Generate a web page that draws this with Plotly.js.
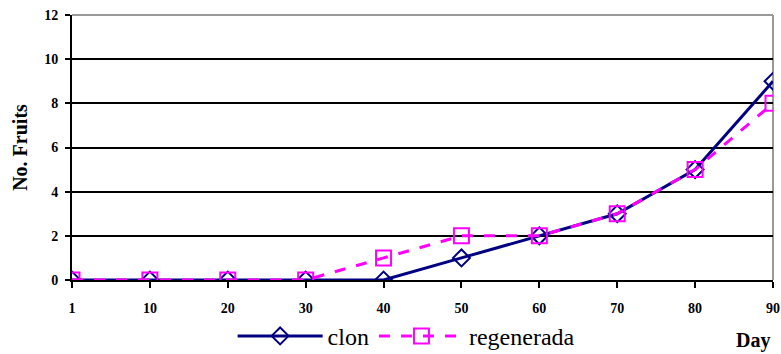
<!DOCTYPE html>
<html><head><meta charset="utf-8">
<script src="https://cdn.plot.ly/plotly-3.0.1.min.js"></script>
<style>body{margin:0;background:#fff}#c{width:781px;height:354px}</style>
</head><body><div id="c"></div>
<script>
const days = ['1','10','20','30','40','50','60','70','80','90'];
const clon = [0,0,0,0,0,1,2,3,5,9];
const regenerada = [0,0,0,0,1,2,2,3,5,8];
const yTicks = [0,2,4,6,8,10,12];

const SERIF = 'Liberation Serif, Times New Roman, serif';
const idx = days.map((d,i)=>i);
const traces = [
  {x: idx, y: clon, name: 'clon', type: 'scatter', mode: 'lines+markers',
   line: {color: '#000080', width: 3},
   marker: {symbol: 'diamond-open', size: 13, color: '#000080', line: {width: 2, color: '#000080'}}},
  {x: idx, y: regenerada, name: 'regenerada', type: 'scatter', mode: 'lines+markers',
   line: {color: '#FF00FF', width: 3, dash: '11px,11px'},
   marker: {symbol: 'square-open', size: 15, color: '#FF00FF', line: {width: 2, color: '#FF00FF'}}}
];
const tickFont = {family: SERIF, size: 14, color: '#000', weight: 'bold'};
const layout = {
  width: 781, height: 354,
  font: {family: SERIF, color: '#000'},
  margin: {l: 72, r: 8, t: 15, b: 74},
  paper_bgcolor: '#fff', plot_bgcolor: '#fff',
  showlegend: true,
  legend: {orientation: 'h', xref: 'container', yref: 'container', x: 0.52, xanchor: 'center', y: 0.05, yanchor: 'middle',
           font: {family: SERIF, size: 24, color: '#000'}, itemwidth: 85,
           bgcolor: 'rgba(0,0,0,0)'},
  xaxis: {range: [0, 9], tickvals: idx, ticktext: days, tickfont: tickFont, automargin: false,
          showgrid: false, zeroline: false, showline: true, linecolor: '#000', linewidth: 2,
          ticks: 'outside', ticklen: 6, tickwidth: 2, tickcolor: '#000', ticklabelstandoff: 8},
  yaxis: {range: [0, 12], tickvals: yTicks, tickfont: tickFont, automargin: false,
          showgrid: true, gridcolor: '#000', gridwidth: 2, zeroline: false,
          showline: true, linecolor: '#000', linewidth: 2,
          ticks: 'outside', ticklen: 5, tickwidth: 2, tickcolor: '#000', ticklabelstandoff: 4,
          title: {text: 'No. Fruits', font: {family: SERIF, size: 20, color: '#000', weight: 'bold'}, standoff: 11}},
  shapes: [
    {type: 'line', xref: 'paper', yref: 'paper', x0: 0, x1: 1, y0: 1, y1: 1, line: {color: '#999', width: 2}, layer: 'above'},
    {type: 'line', xref: 'paper', yref: 'paper', x0: 1, x1: 1, y0: 0, y1: 1, line: {color: '#999', width: 2}, layer: 'below'}
  ],
  annotations: [
    {text: 'Day', xref: 'paper', yref: 'paper', x: 0.972, y: -0.23, xanchor: 'center', yanchor: 'middle',
     showarrow: false, font: {family: SERIF, size: 20, color: '#000', weight: 'bold'}}
  ]
};
Plotly.newPlot('c', traces, layout, {displayModeBar: false, staticPlot: true});
</script></body></html>
